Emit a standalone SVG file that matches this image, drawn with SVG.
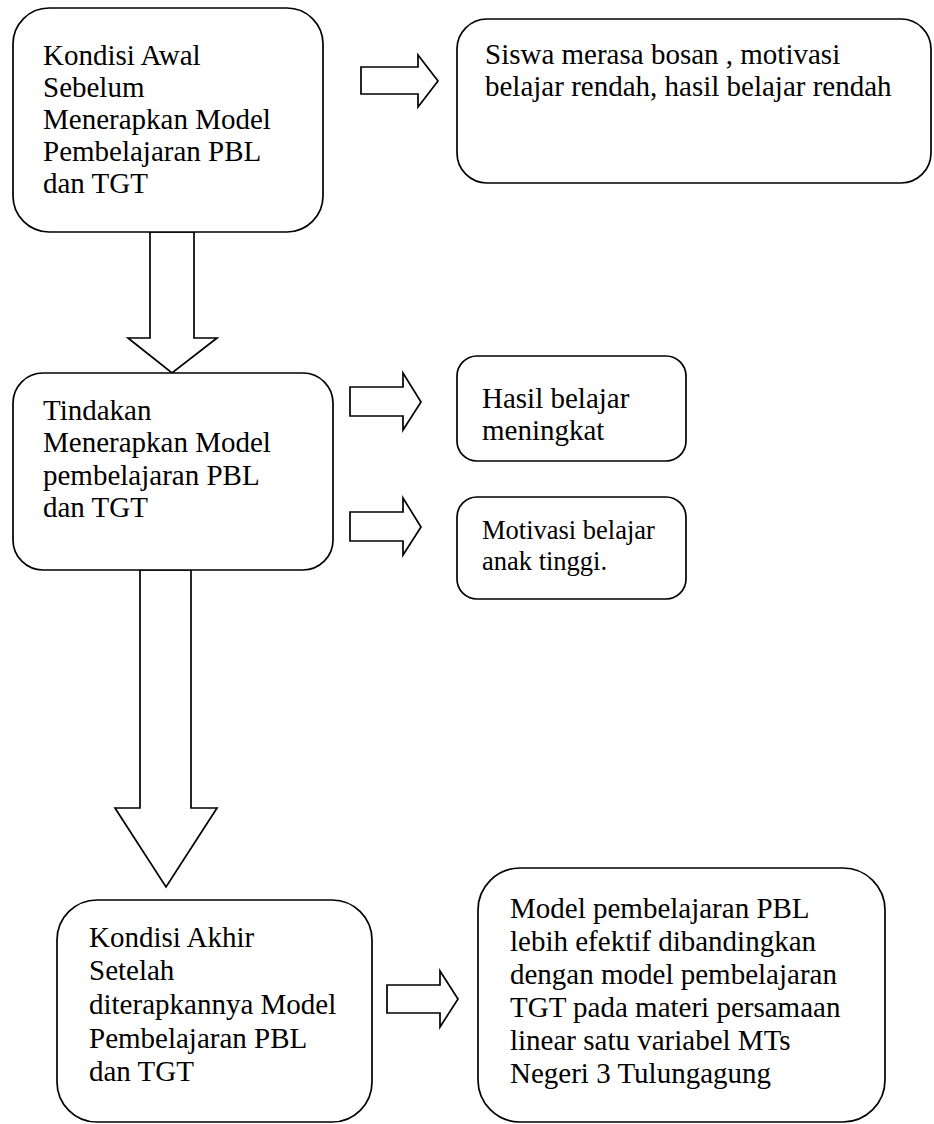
<svg xmlns="http://www.w3.org/2000/svg" width="934" height="1124" viewBox="0 0 934 1124">
<style>
.box{fill:#fff;stroke:#000;stroke-width:1.7}
.arr{fill:#fff;stroke:#000;stroke-width:1.7;stroke-linejoin:miter}
.t{font-family:"Liberation Serif","Times New Roman",serif;font-size:29px;fill:#000}
.s{font-size:26.5px}
</style>
<rect width="934" height="1124" fill="#fff"/>
<g id="connectors">
<polygon class="arr" points="361,67 418,67 418,55 438,81 418,107 418,94 361,94"/>
<polygon class="arr" points="150,232 194,232 194,338 217,338 172,373 128,338 150,338"/>
<polygon class="arr" points="350,387 403,387 403,373 421,402 403,430 403,416 350,416"/>
<polygon class="arr" points="350,512 403,512 403,498 421,527 403,555 403,541 350,541"/>
<polygon class="arr" points="140,570 191,570 191,808 217,808 166,887 115,808 140,808"/>
<polygon class="arr" points="387,985 440,985 440,971 458,999 440,1027 440,1013 387,1013"/>
</g>
<g id="node-awal">
<rect class="box" x="13" y="8" width="310" height="224" rx="36" ry="36"/>
<text class="t"><tspan x="43" y="65">Kondisi Awal</tspan><tspan x="43" y="97">Sebelum</tspan><tspan x="43" y="129">Menerapkan Model</tspan><tspan x="43" y="161">Pembelajaran PBL</tspan><tspan x="43" y="193">dan TGT</tspan></text>
</g>
<g id="node-siswa">
<rect class="box" x="457" y="19" width="474" height="164" rx="30" ry="30"/>
<text class="t"><tspan x="485" y="64">Siswa merasa bosan , motivasi</tspan><tspan x="485" y="96">belajar rendah, hasil belajar rendah</tspan></text>
</g>
<g id="node-tindakan">
<rect class="box" x="13" y="373" width="320" height="197" rx="30" ry="30"/>
<text class="t"><tspan x="43" y="420">Tindakan</tspan><tspan x="43" y="452">Menerapkan Model</tspan><tspan x="43" y="485">pembelajaran PBL</tspan><tspan x="43" y="517">dan TGT</tspan></text>
</g>
<g id="node-hasil">
<rect class="box" x="457" y="356" width="229" height="105" rx="20" ry="20"/>
<text class="t"><tspan x="482" y="408">Hasil belajar</tspan><tspan x="482" y="440">meningkat</tspan></text>
</g>
<g id="node-motivasi">
<rect class="box" x="457" y="497" width="229" height="102" rx="20" ry="20"/>
<text class="t s"><tspan x="482" y="539">Motivasi belajar</tspan><tspan x="482" y="570">anak tinggi.</tspan></text>
</g>
<g id="node-akhir">
<rect class="box" x="57" y="900" width="315" height="222" rx="40" ry="40"/>
<text class="t"><tspan x="89" y="947">Kondisi Akhir</tspan><tspan x="89" y="980">Setelah</tspan><tspan x="89" y="1014">diterapkannya Model</tspan><tspan x="89" y="1048">Pembelajaran PBL</tspan><tspan x="89" y="1081">dan TGT</tspan></text>
</g>
<g id="node-kesimpulan">
<rect class="box" x="478" y="868" width="407" height="254" rx="42" ry="42"/>
<text class="t"><tspan x="510" y="918">Model pembelajaran PBL</tspan><tspan x="510" y="951">lebih efektif dibandingkan</tspan><tspan x="510" y="984">dengan model pembelajaran</tspan><tspan x="510" y="1017">TGT pada materi persamaan</tspan><tspan x="510" y="1050">linear satu variabel MTs</tspan><tspan x="510" y="1083">Negeri 3 Tulungagung</tspan></text>
</g>
</svg>
